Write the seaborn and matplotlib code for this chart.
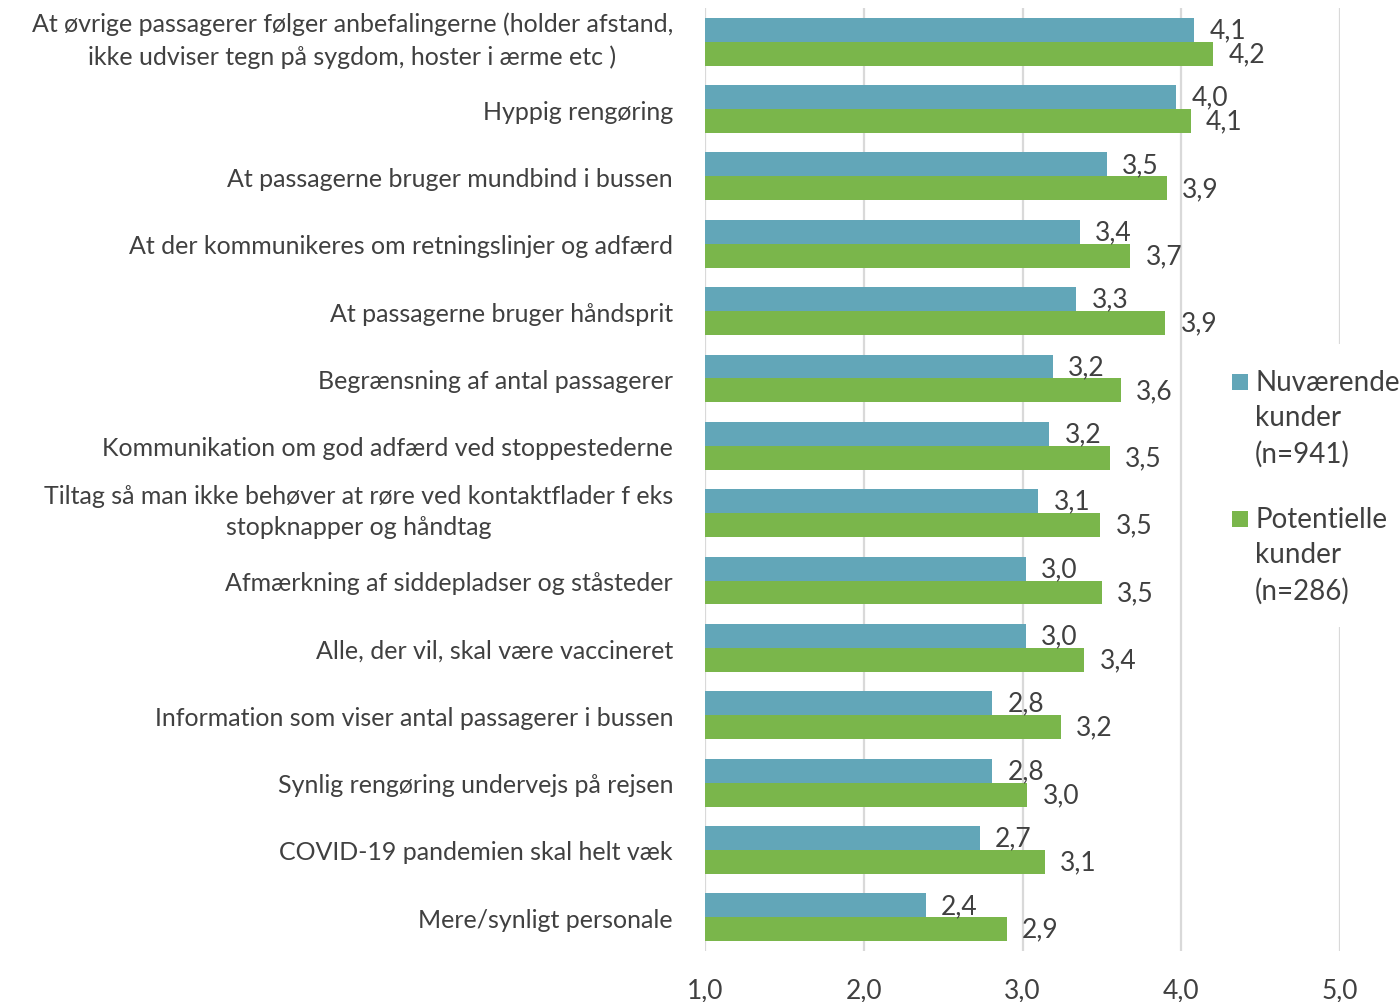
import matplotlib
matplotlib.use("Agg")
import matplotlib.pyplot as plt
import matplotlib.transforms as mtransforms
import seaborn as sns
import pandas as pd
from matplotlib.ticker import FuncFormatter
from matplotlib.patches import Rectangle

categories = [
    "At øvrige passagerer følger anbefalingerne (holder afstand,\nikke udviser tegn på sygdom, hoster i ærme etc )",
    "Hyppig rengøring",
    "At passagerne bruger mundbind i bussen",
    "At der kommunikeres om retningslinjer og adfærd",
    "At passagerne bruger håndsprit",
    "Begrænsning af antal passagerer",
    "Kommunikation om god adfærd ved stoppestederne",
    "Tiltag så man ikke behøver at røre ved kontaktflader f eks\nstopknapper og håndtag",
    "Afmærkning af siddepladser og ståsteder",
    "Alle, der vil, skal være vaccineret",
    "Information som viser antal passagerer i bussen",
    "Synlig rengøring undervejs på rejsen",
    "COVID-19 pandemien skal helt væk",
    "Mere/synligt personale",
]
nuvaerende = [4.08, 3.97, 3.53, 3.36, 3.34, 3.19, 3.17, 3.10, 3.02, 3.02, 2.81, 2.81, 2.73, 2.39]
potentielle = [4.20, 4.06, 3.91, 3.68, 3.90, 3.62, 3.55, 3.49, 3.50, 3.39, 3.24, 3.03, 3.14, 2.90]
series_names = ["Nuværende\nkunder\n(n=941)", "Potentielle\nkunder\n(n=286)"]
colors = ["#62a6b8", "#7ab64b"]
xticks = [1, 2, 3, 4, 5]

df = pd.DataFrame({
    "kategori": categories * 2,
    "værdi": nuvaerende + potentielle,
    "serie": [series_names[0]] * len(categories) + [series_names[1]] * len(categories),
})

sns.set_theme(style="white")
plt.rcParams["font.family"] = ["Lato", "DejaVu Sans"]
text_color = "#404040"

W, H = 1399, 1003
fig = plt.figure(figsize=(W / 100, H / 100), dpi=100)
ax = fig.add_axes([705 / W, 1 - 952 / H, (1340 - 705) / W, (952 - 9) / H])

sns.barplot(data=df, y="kategori", x="værdi", hue="serie",
            hue_order=series_names, palette=colors, orient="h", width=0.71,
            saturation=1, ax=ax, order=categories, legend=False, linewidth=0)

ax.set_xlim(1, 5)
ax.set_ylim(13.5, -0.5)
ax.set_xticks(xticks)
ax.xaxis.set_major_formatter(FuncFormatter(lambda v, p: f"{v:.1f}".replace(".", ",")))
ax.grid(axis="x", color="#d9d9d9", linewidth=1.6)
ax.set_axisbelow(True)
for s in ax.spines.values():
    s.set_visible(False)
ax.set_xlabel("")
ax.set_ylabel("")
ax.tick_params(axis="x", labelsize=19, colors=text_color, length=0, pad=19)
ax.tick_params(axis="y", labelsize=18, colors=text_color, length=0, pad=23)
shift_up = mtransforms.ScaledTranslation(0, 6 / 72, fig.dpi_scale_trans)
for lbl in ax.get_yticklabels():
    lbl.set_multialignment("center")
    lbl.set_linespacing(1.45)
    if "\n" in lbl.get_text():
        lbl.set_transform(lbl.get_transform() + shift_up)

for cont, vals in zip(ax.containers, [nuvaerende, potentielle]):
    ax.bar_label(cont, labels=[f"{v:.1f}".replace(".", ",") for v in vals],
                 padding=11, fontsize=19, color=text_color)

# legend drawn manually (square aligned with first text line)
fig.add_artist(Rectangle((1226 / W, 1 - 628 / H), (1399 - 1226) / W, (628 - 345) / H,
                         transform=fig.transFigure, facecolor="white", edgecolor="none", zorder=2))
legend_tops = [370, 507]
for name, col, top in zip(series_names, colors, legend_tops):
    fig.add_artist(Rectangle((1232 / W, 1 - (top + 21) / H), 16 / W, 16 / H,
                             transform=fig.transFigure, facecolor=col, edgecolor="none", zorder=3))
    fig.text(1255 / W, 1 - top / H, name, fontsize=20, color=text_color, ha="left", va="top",
             linespacing=1.45, zorder=4)

fig.savefig("out.png", dpi=100)
